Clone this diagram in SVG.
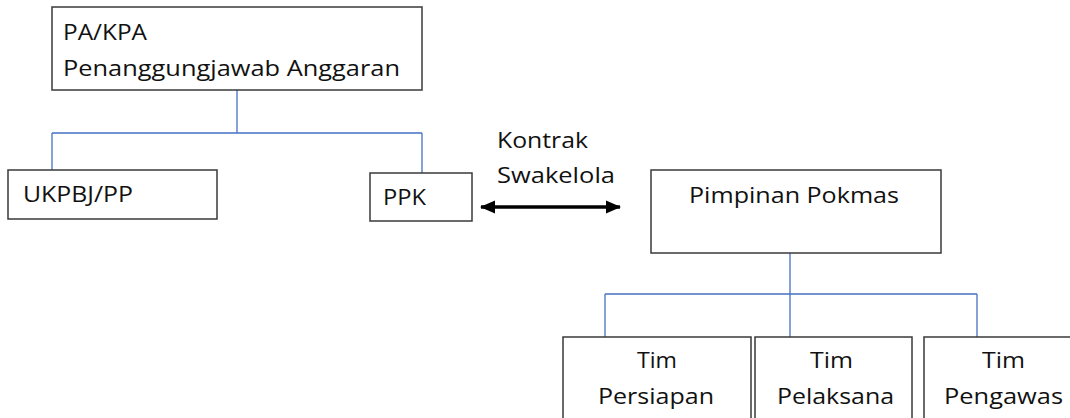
<svg xmlns="http://www.w3.org/2000/svg" width="1070" height="418" viewBox="0 0 1070 418">
<style>
.box{fill:#ffffff;stroke:#3a3a3a;stroke-width:1.5}
.t{font-family:"Open Sans","Liberation Sans",sans-serif;font-size:22px;fill:#111111}
.con{fill:none;stroke:#4472C4;stroke-width:1.3}
.arr{stroke:#000000;stroke-width:3.5;fill:none}
</style>
<defs>
<marker id="ah" markerUnits="userSpaceOnUse" markerWidth="16" markerHeight="16" viewBox="0 0 16 16" refX="14" refY="8" orient="auto-start-reverse">
<path d="M0,1.5 L15,8 L0,14.5 Z" fill="#000000"/>
</marker>
</defs>
<rect width="1070" height="418" fill="#ffffff"/>
<g id="connectors">
<path class="con" d="M237,90 V133 M52,133 H422 M52,133 V170 M422,133 V173"/>
<path class="con" d="M790,253 V294 M605,294 H977 M605,294 V337 M790,294 V337 M977,294 V337"/>
<line class="arr" x1="481" y1="207" x2="620" y2="207" marker-start="url(#ah)" marker-end="url(#ah)"/>
</g>
<g id="pa-kpa">
<rect class="box" x="52" y="7" width="370" height="83"/>
<text class="t" x="63" y="40" textLength="84" lengthAdjust="spacingAndGlyphs">PA/KPA</text>
<text class="t" x="63" y="76" textLength="337" lengthAdjust="spacingAndGlyphs">Penanggungjawab Anggaran</text>
</g>
<g id="ukpbj">
<rect class="box" x="8" y="170" width="209" height="49"/>
<text class="t" x="23" y="202" textLength="110" lengthAdjust="spacingAndGlyphs">UKPBJ/PP</text>
</g>
<g id="ppk">
<rect class="box" x="370" y="173" width="102" height="48"/>
<text class="t" x="383" y="205" textLength="43" lengthAdjust="spacingAndGlyphs">PPK</text>
</g>
<g id="kontrak-label">
<text class="t" x="497" y="148" textLength="91" lengthAdjust="spacingAndGlyphs">Kontrak</text>
<text class="t" x="497" y="183" textLength="118" lengthAdjust="spacingAndGlyphs">Swakelola</text>
</g>
<g id="pimpinan">
<rect class="box" x="651" y="170" width="290" height="83"/>
<text class="t" x="689" y="203" textLength="210" lengthAdjust="spacingAndGlyphs">Pimpinan Pokmas</text>
</g>
<g id="tim-persiapan">
<rect class="box" x="563" y="337" width="188" height="90"/>
<text class="t" x="637" y="368" textLength="40" lengthAdjust="spacingAndGlyphs">Tim</text>
<text class="t" x="598" y="404" textLength="116" lengthAdjust="spacingAndGlyphs">Persiapan</text>
</g>
<g id="tim-pelaksana">
<rect class="box" x="755" y="337" width="157" height="90"/>
<text class="t" x="810" y="368" textLength="43" lengthAdjust="spacingAndGlyphs">Tim</text>
<text class="t" x="777" y="404" textLength="117" lengthAdjust="spacingAndGlyphs">Pelaksana</text>
</g>
<g id="tim-pengawas">
<rect class="box" x="924" y="337" width="160" height="90"/>
<text class="t" x="982" y="368" textLength="43" lengthAdjust="spacingAndGlyphs">Tim</text>
<text class="t" x="944" y="404" textLength="119" lengthAdjust="spacingAndGlyphs">Pengawas</text>
</g>
</svg>
